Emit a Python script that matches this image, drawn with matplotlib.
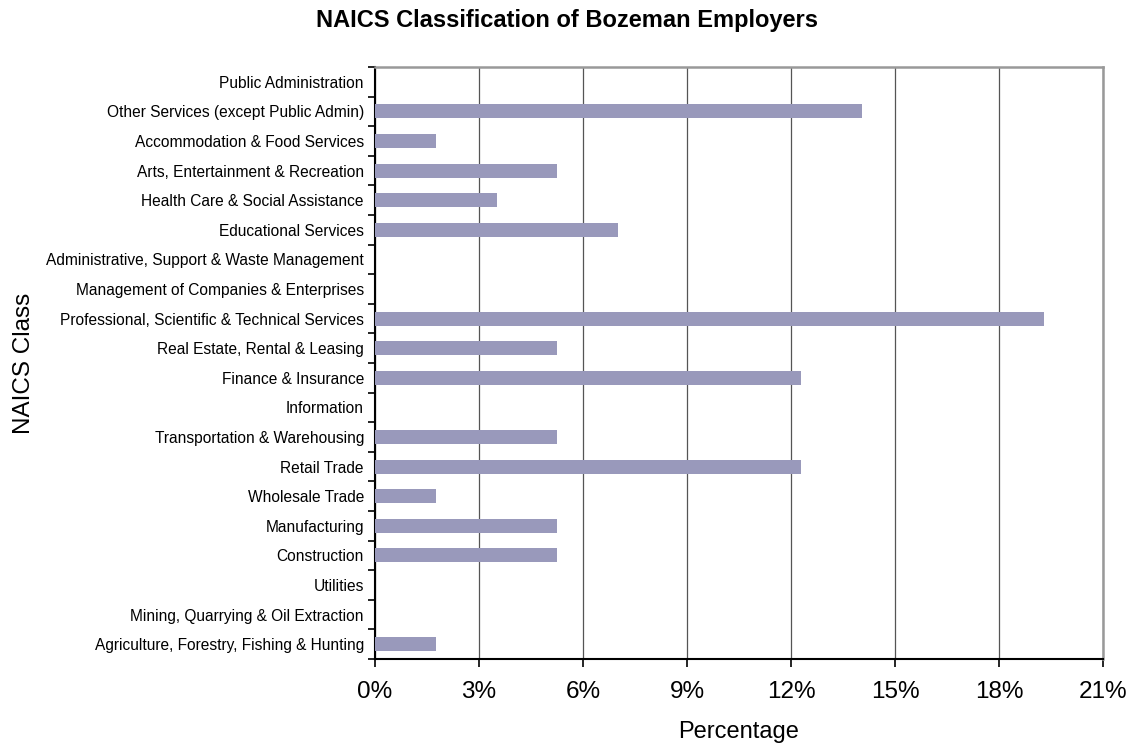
import numpy as np
import matplotlib.pyplot as plt
from matplotlib.ticker import FixedLocator

plt.rcParams['font.family'] = ['Liberation Sans', 'DejaVu Sans']

# NAICS classes, bottom to top
classes = [
    "Agriculture, Forestry, Fishing & Hunting",
    "Mining, Quarrying & Oil Extraction",
    "Utilities",
    "Construction",
    "Manufacturing",
    "Wholesale Trade",
    "Retail Trade",
    "Transportation & Warehousing",
    "Information",
    "Finance & Insurance",
    "Real Estate, Rental & Leasing",
    "Professional, Scientific & Technical Services",
    "Management of Companies & Enterprises",
    "Administrative, Support & Waste Management",
    "Educational Services",
    "Health Care & Social Assistance",
    "Arts, Entertainment & Recreation",
    "Accommodation & Food Services",
    "Other Services (except Public Admin)",
    "Public Administration",
]
# share of employers, percent
pct = [1.75, 0, 0, 5.26, 5.26, 1.75, 12.28, 5.26, 0, 12.28,
       5.26, 19.30, 0, 0, 7.02, 3.51, 5.26, 1.75, 14.04, 0]
xticks = [0, 3, 6, 9, 12, 15, 18, 21]

fig = plt.figure(figsize=(11.31, 7.49), dpi=100)
ax = fig.add_axes([375/1131, 1 - 659/749, (1103 - 375)/1131, (659 - 67)/749])

y = np.arange(len(classes))
ax.barh(y, pct, height=0.47, color='#9999bb', zorder=3)

ax.set_xlim(0, 21)
ax.set_ylim(-0.5, len(classes) - 0.5)
ax.set_xticks(xticks)
ax.set_xticklabels([f"{t}%" for t in xticks], fontsize=17.5)
ax.xaxis.grid(True, color='#555555', linewidth=0.9, zorder=0)

ax.set_yticks(y)
ax.set_yticklabels(classes, fontsize=11.2)
ax.yaxis.set_minor_locator(FixedLocator(np.arange(-0.5, len(classes), 1)))
ax.tick_params(axis='y', which='major', length=0, pad=8)
ax.tick_params(axis='y', which='minor', length=5, width=1.2, color='black')
ax.tick_params(axis='x', length=6, width=1.2, pad=10)

for s in ['left', 'bottom']:
    ax.spines[s].set_color('black')
    ax.spines[s].set_linewidth(1.5)
for s in ['top', 'right']:
    ax.spines[s].set_color('#999999')
    ax.spines[s].set_linewidth(1.8)

ax.set_xlabel("Percentage", fontsize=17, labelpad=13)
ax.set_ylabel("NAICS Class", fontsize=17.5, labelpad=8)
fig.text(567/1131, 1 - 20/749, "NAICS Classification of Bozeman Employers",
         ha='center', va='center', fontsize=17, fontweight='bold')

fig.savefig("out.png", dpi=100)
